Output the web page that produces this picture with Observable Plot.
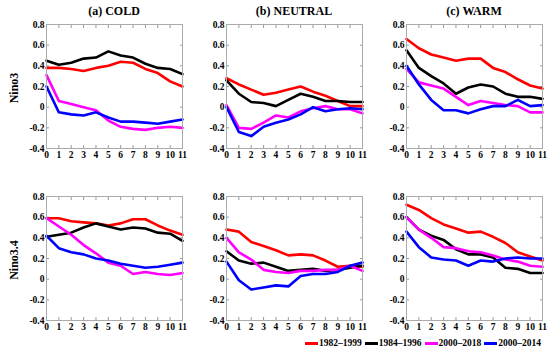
<!DOCTYPE html>
<html>
<head>
<meta charset="utf-8">
<script src="https://cdn.jsdelivr.net/npm/d3@7"></script>
<script src="https://cdn.jsdelivr.net/npm/@observablehq/plot@0.6"></script>
<style>
  html, body { margin: 0; padding: 0; background: #fff; }
  #root { position: relative; width: 550px; height: 357px; overflow: hidden;
          font-family: "Liberation Serif", "Times New Roman", serif; font-weight: bold; color: #000; }
  .panel { position: absolute; }
  .title { position: absolute; font-size: 12px; transform: translateX(-50%); white-space: nowrap; }
  .rowlab { position: absolute; font-size: 12px; white-space: nowrap; transform: translate(-50%, -50%) rotate(-90deg); }
  #legend { position: absolute; left: 305px; top: 338px; display: flex; align-items: center; font-size: 9.5px; white-space: nowrap; }
  .item { display: flex; align-items: center; margin-right: 3px; }
  .sw { width: 13px; height: 3px; margin-right: 1px; }
</style>
</head>
<body>
<div id="root"></div>
<script>
// ---- data ----
const months = [0, 1, 2, 3, 4, 5, 6, 7, 8, 9, 10, 11];
const seriesNames = ["1982–1999", "1984–1996", "2000–2018", "2000–2014"];
const seriesColors = ["#ff0000", "#000000", "#ff00ff", "#0000ff"];
const panelTitles = ["(a) COLD", "(b) NEUTRAL", "(c) WARM"];
const rowLabels = ["Nino3", "Nino3.4"];
const yTicks = [-0.4, -0.2, 0, 0.2, 0.4, 0.6, 0.8];

// rows: 1982–1999, 1984–1996, 2000–2018, 2000–2014
const nino3Cold = [
  [0.38, 0.38, 0.37, 0.35, 0.38, 0.40, 0.44, 0.43, 0.37, 0.33, 0.25, 0.20],
  [0.45, 0.41, 0.43, 0.47, 0.48, 0.54, 0.50, 0.48, 0.42, 0.38, 0.37, 0.32],
  [0.31, 0.06, 0.03, 0.00, -0.03, -0.13, -0.19, -0.21, -0.22, -0.20, -0.19, -0.20],
  [0.20, -0.05, -0.07, -0.08, -0.05, -0.10, -0.14, -0.14, -0.15, -0.16, -0.14, -0.12]
];
const nino3Neutral = [
  [0.28, 0.22, 0.17, 0.12, 0.14, 0.17, 0.20, 0.15, 0.11, 0.06, 0.01, 0.01],
  [0.26, 0.13, 0.05, 0.04, 0.01, 0.07, 0.13, 0.10, 0.06, 0.06, 0.05, 0.05],
  [0.02, -0.20, -0.21, -0.15, -0.08, -0.10, -0.04, -0.01, 0.01, -0.02, -0.02, -0.06],
  [0.00, -0.24, -0.28, -0.19, -0.15, -0.12, -0.07, 0.00, -0.04, -0.02, -0.01, -0.02]
];
const nino3Warm = [
  [0.66, 0.57, 0.51, 0.48, 0.45, 0.47, 0.47, 0.38, 0.34, 0.27, 0.21, 0.18],
  [0.55, 0.38, 0.30, 0.23, 0.13, 0.19, 0.22, 0.20, 0.13, 0.10, 0.10, 0.08],
  [0.37, 0.24, 0.21, 0.18, 0.10, 0.02, 0.06, 0.04, 0.02, 0.01, -0.05, -0.05],
  [0.40, 0.22, 0.07, -0.03, -0.03, -0.06, -0.02, 0.01, 0.01, 0.07, 0.01, 0.02]
];
const nino34Cold = [
  [0.59, 0.59, 0.56, 0.55, 0.54, 0.52, 0.54, 0.58, 0.58, 0.52, 0.47, 0.43],
  [0.41, 0.43, 0.45, 0.50, 0.54, 0.51, 0.48, 0.50, 0.49, 0.45, 0.44, 0.37],
  [0.59, 0.51, 0.43, 0.33, 0.25, 0.16, 0.13, 0.05, 0.07, 0.05, 0.04, 0.06],
  [0.42, 0.30, 0.26, 0.24, 0.20, 0.18, 0.15, 0.13, 0.11, 0.12, 0.14, 0.16]
];
const nino34Neutral = [
  [0.48, 0.46, 0.36, 0.32, 0.28, 0.23, 0.24, 0.23, 0.18, 0.12, 0.13, 0.12],
  [0.27, 0.18, 0.15, 0.16, 0.12, 0.08, 0.09, 0.10, 0.08, 0.09, 0.11, 0.13],
  [0.40, 0.26, 0.19, 0.09, 0.07, 0.06, 0.08, 0.08, 0.09, 0.09, 0.13, 0.08],
  [0.17, -0.01, -0.10, -0.08, -0.06, -0.07, 0.03, 0.05, 0.05, 0.07, 0.13, 0.16]
];
const nino34Warm = [
  [0.72, 0.67, 0.59, 0.53, 0.49, 0.45, 0.46, 0.41, 0.35, 0.26, 0.22, 0.18],
  [0.60, 0.48, 0.42, 0.38, 0.29, 0.24, 0.24, 0.21, 0.11, 0.10, 0.06, 0.06],
  [0.60, 0.48, 0.40, 0.31, 0.30, 0.27, 0.26, 0.23, 0.19, 0.17, 0.13, 0.12],
  [0.46, 0.31, 0.21, 0.19, 0.18, 0.13, 0.18, 0.17, 0.20, 0.21, 0.20, 0.20]
];
const panels = [
  [nino3Cold, nino3Neutral, nino3Warm],
  [nino34Cold, nino34Neutral, nino34Warm]
];

// ---- layout ----
const root = document.getElementById("root");
const frameLefts = [46, 226, 406];
const frameTops = [24, 196];
const frameW = 136, frameH = 124;
const mL = 36, mR = 6, mT = 6, mB = 18;

const fmtY = d => d === 0 ? "0" : d.toFixed(1).replace("−", "-");

panels.forEach((row, r) => {
  row.forEach((panel, c) => {
    const rows = [];
    panel.forEach((vals, s) => vals.forEach((v, i) => rows.push({month: months[i], value: v, series: seriesNames[s]})));
    const svg = Plot.plot({
      width: mL + frameW + mR,
      height: mT + frameH + mB,
      marginLeft: mL, marginRight: mR, marginTop: mT, marginBottom: mB,
      x: {domain: [0, 11]},
      y: {domain: [-0.4, 0.8]},
      color: {domain: seriesNames, range: seriesColors},
      style: {fontFamily: "'Liberation Serif', 'Times New Roman', serif", fontWeight: "bold", fontSize: "9.5px", background: "transparent", color: "#000", overflow: "visible"},
      marks: [
        Plot.axisY(yTicks, {anchor: "left", tickSize: -3, tickPadding: 5, stroke: "#999", tickFormat: fmtY, label: null}),
        Plot.axisY(yTicks, {anchor: "right", tickSize: -3, stroke: "#999", text: null, label: null}),
        Plot.axisX(months, {anchor: "bottom", tickSize: -3, tickPadding: 6, stroke: "#999", label: null}),
        Plot.axisX(months, {anchor: "top", tickSize: -3, stroke: "#999", text: null, label: null}),
        Plot.line(rows, {x: "month", y: "value", z: "series", stroke: "series", strokeWidth: 2.6}),
        Plot.frame({stroke: "#aaa", strokeWidth: 1})
      ]
    });
    svg.classList.add("panel");
    svg.style.left = (frameLefts[c] - mL) + "px";
    svg.style.top = (frameTops[r] - mT) + "px";
    root.appendChild(svg);
  });
});

panelTitles.forEach((t, c) => {
  const d = document.createElement("div");
  d.className = "title";
  d.textContent = t;
  d.style.left = (frameLefts[c] + frameW / 2) + "px";
  d.style.top = "4px";
  root.appendChild(d);
});

rowLabels.forEach((t, r) => {
  const d = document.createElement("div");
  d.className = "rowlab";
  d.textContent = t;
  d.style.left = "14px";
  d.style.top = (frameTops[r] + frameH / 2 + 2) + "px";
  root.appendChild(d);
});

const legend = document.createElement("div");
legend.id = "legend";
seriesNames.forEach((n, i) => {
  const it = document.createElement("div");
  it.className = "item";
  const sw = document.createElement("div");
  sw.className = "sw";
  sw.style.background = seriesColors[i];
  const tx = document.createElement("span");
  tx.textContent = n;
  it.appendChild(sw);
  it.appendChild(tx);
  legend.appendChild(it);
});
root.appendChild(legend);
</script>
</body>
</html>
